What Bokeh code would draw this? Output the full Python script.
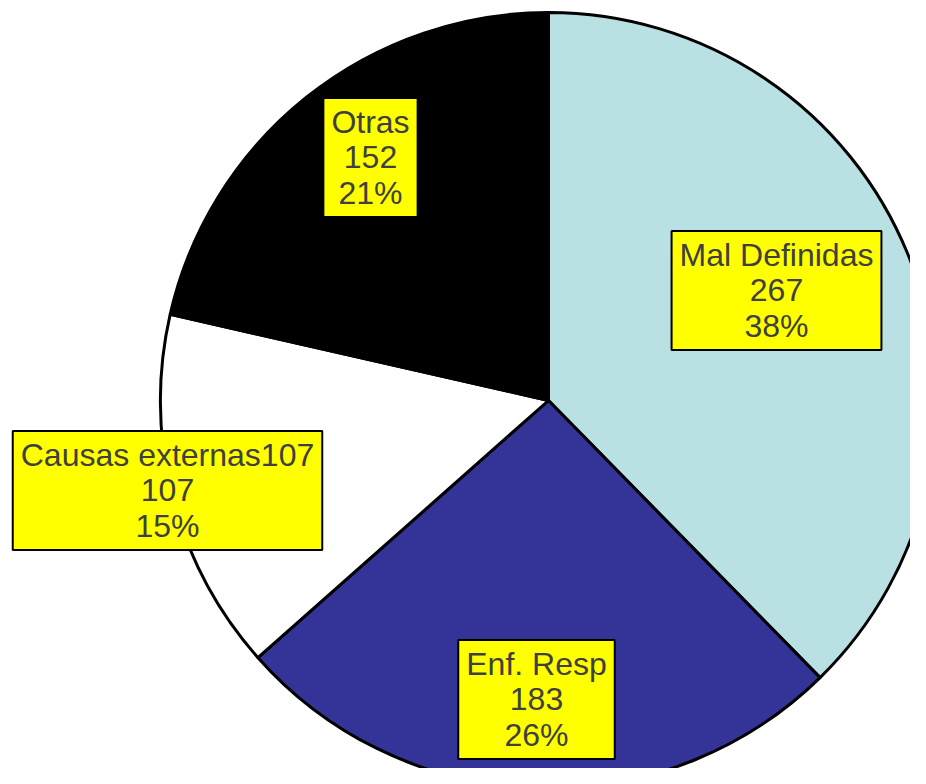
import math
from bokeh.plotting import figure
from bokeh.models import Range1d, Label
from bokeh.embed import file_html
from bokeh.resources import INLINE

# Data
categories = ["Mal Definidas", "Enf. Resp", "Causas externas107", "Otras"]
values = [267, 183, 107, 152]
colors = ["#B9E0E3", "#343397", "#FFFFFF", "#000000"]

# Layout (reference pixel space: x right, y down; data y = 784 - py)
CX, CY = 548, 784 - 400
R = 388
label_offsets = [(228, 110), (-12, -299), (-381, -90), (-178, 243)]

W, H = 910, 768
p = figure(width=W, height=H, output_backend="svg", toolbar_location=None,
           x_range=Range1d(0, W), y_range=Range1d(784 - H, 784),
           min_border=0, background_fill_color="white", border_fill_color="white")
p.axis.visible = False
p.grid.visible = False
p.outline_line_color = None

total = sum(values)
start = math.pi / 2
starts, ends = [], []
for v in values:
    sweep = 2 * math.pi * v / total
    end = start - sweep
    starts.append(end)
    ends.append(start)
    start = end

p.wedge(x=[CX] * len(values), y=[CY] * len(values), radius=R,
        start_angle=starts, end_angle=ends, fill_color=colors,
        line_color="black", line_width=3)

for cat, v, (dx, dy) in zip(categories, values, label_offsets):
    pct = round(100 * v / total)
    txt = f"{cat}\n{v}\n{pct}%"
    lab = Label(x=CX + dx, y=CY + dy, text=txt,
                text_align="center", text_baseline="middle",
                text_font="Liberation Sans", text_font_size="32px",
                text_color="#404040", text_line_height=0.985,
                background_fill_color="#FFFF00", border_line_color="black",
                border_line_width=2, padding=(8, 6))
    p.add_layout(lab)

open("out.html", "w").write(file_html(p, INLINE))
